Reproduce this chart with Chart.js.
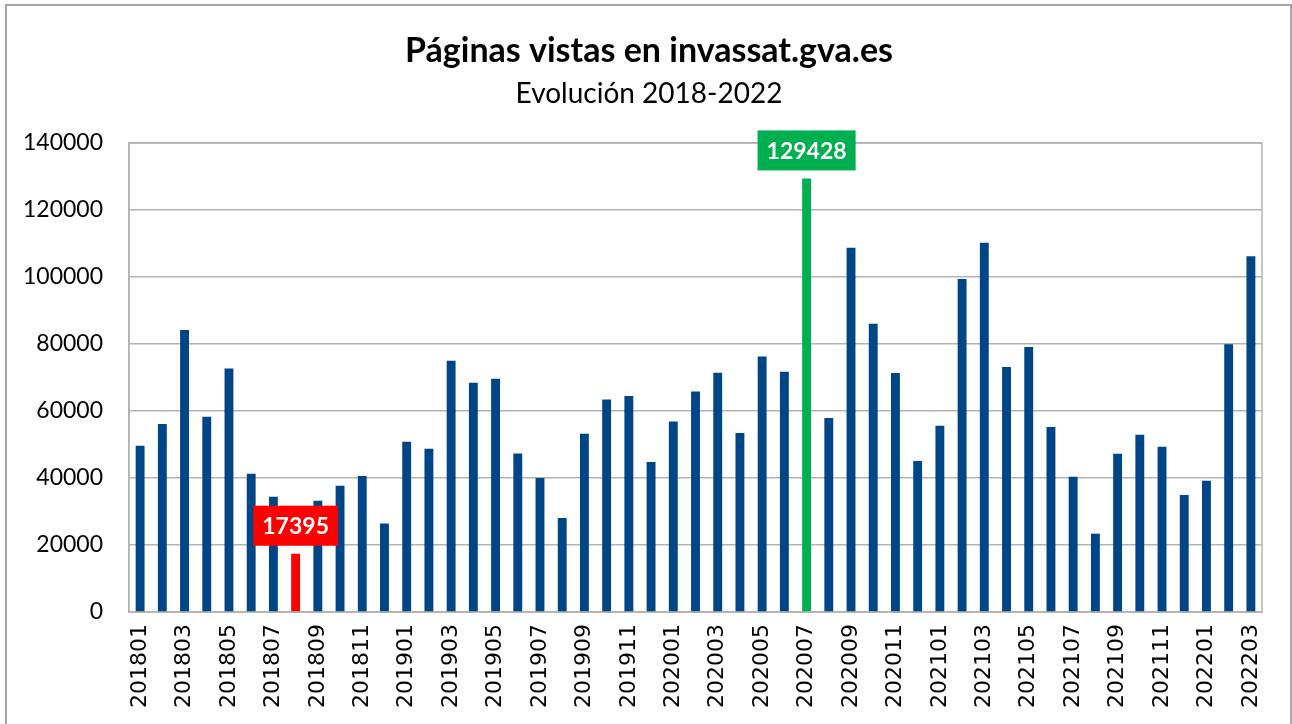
<!DOCTYPE html>
<html>
<head>
<meta charset="utf-8">
<script src="https://cdn.jsdelivr.net/npm/chart.js@4/dist/chart.umd.min.js"></script>
<style>
  html, body { margin: 0; padding: 0; background: #ffffff; }
  #wrap { width: 1292px; height: 724px; position: relative; }
</style>
</head>
<body>
<div id="wrap"><canvas id="c" width="1292" height="724"></canvas></div>
<script>
const chartTitle = "Páginas vistas en invassat.gva.es";
const chartSubtitle = "Evolución 2018-2022";

const months = [
  "201801","201802","201803","201804","201805","201806","201807","201808","201809","201810","201811","201812",
  "201901","201902","201903","201904","201905","201906","201907","201908","201909","201910","201911","201912",
  "202001","202002","202003","202004","202005","202006","202007","202008","202009","202010","202011","202012",
  "202101","202102","202103","202104","202105","202106","202107","202108","202109","202110","202111","202112",
  "202201","202202","202203"
];

const pageViews = [
  49600, 56100, 84200, 58300, 72700, 41300, 34400, 17395, 33200, 37700, 40600, 26400,
  50800, 48750, 75000, 68400, 69650, 47300, 40000, 28060, 53200, 63400, 64500, 44800,
  56900, 65800, 71400, 53400, 76300, 71700, 129428, 57900, 108750, 86070, 71340, 45070,
  55600, 99400, 110250, 73130, 79100, 55200, 40400, 23380, 47260, 52930, 49350, 34900,
  39200, 79900, 106200
];

const yTicks = [0, 20000, 40000, 60000, 80000, 100000, 120000, 140000];

const minMonth = "201808";
const maxMonth = "202007";

const COLOR_BAR = "#004586";
const COLOR_MIN = "#ff0000";
const COLOR_MAX = "#00b050";
const GRID = "#b3b3b3";

const barColors = months.map(m => m === minMonth ? COLOR_MIN : (m === maxMonth ? COLOR_MAX : COLOR_BAR));

const decorPlugin = {
  id: 'decor',
  beforeDatasetsDraw(chart) {
    const ctx = chart.ctx, a = chart.chartArea;
    ctx.save();
    ctx.strokeStyle = GRID;
    ctx.lineWidth = 1.5;
    ctx.strokeRect(a.left, a.top, a.right - a.left, a.bottom - a.top);
    ctx.restore();
  },
  afterDraw(chart) {
    const ctx = chart.ctx;
    ctx.save();
    // outer border
    ctx.strokeStyle = "#a6a6a6";
    ctx.lineWidth = 2;
    ctx.strokeRect(6, 5, 1285, 740);
    // titles
    ctx.fillStyle = "#000";
    ctx.textAlign = "center";
    ctx.textBaseline = "alphabetic";
    ctx.font = "bold 34px Lato";
    ctx.fillText(chartTitle, 649, 62);
    ctx.font = "28px Lato";
    ctx.fillText(chartSubtitle, 649, 103);
    // highlighted value labels
    const meta = chart.getDatasetMeta(0);
    [[minMonth, COLOR_MIN], [maxMonth, COLOR_MAX]].forEach(([m, col]) => {
      const i = months.indexOf(m);
      const el = meta.data[i];
      const txt = String(pageViews[i]);
      ctx.font = "bold 23px Lato";
      const w = ctx.measureText(txt).width + 18;
      const h = 40;
      const bx = el.x - w / 2;
      const by = el.y - 8 - h;
      ctx.fillStyle = col;
      ctx.fillRect(bx, by, w, h);
      ctx.fillStyle = "#fff";
      ctx.textBaseline = "middle";
      ctx.fillText(txt, el.x, by + h / 2 + 1);
    });
    ctx.restore();
  }
};

new Chart(document.getElementById('c'), {
  type: 'bar',
  data: {
    labels: months,
    datasets: [{
      data: pageViews,
      backgroundColor: barColors,
      borderWidth: 0,
      barPercentage: 0.4,
      categoryPercentage: 1.0
    }]
  },
  options: {
    responsive: false,
    animation: false,
    devicePixelRatio: 1,
    layout: { padding: { top: 143, right: 30, left: 0, bottom: 0 } },
    plugins: {
      legend: { display: false },
      tooltip: { enabled: false },
      title: { display: false }
    },
    scales: {
      x: {
        grid: { display: false, drawTicks: false },
        border: { display: true, color: GRID, width: 1.5 },
        ticks: {
          autoSkip: false,
          maxRotation: 90,
          minRotation: 90,
          padding: 12,
          color: "#000",
          font: { family: "DejaVu Sans", size: 22 },
          callback: function(v, i) { return i % 2 === 0 ? months[i] : ''; }
        },
        afterFit(scale) { scale.height = 112; }
      },
      y: {
        min: 0,
        max: 140000,
        afterBuildTicks(scale) { scale.ticks = yTicks.map(v => ({ value: v })); },
        grid: { color: GRID, lineWidth: 1.5, drawTicks: false },
        border: { display: true, color: GRID, width: 1.5 },
        ticks: {
          padding: 26,
          color: "#000",
          font: { family: "Lato", size: 23 },
          callback: v => String(v)
        },
        afterFit(scale) { scale.width = 129; }
      }
    }
  },
  plugins: [decorPlugin]
});
</script>
</body>
</html>
